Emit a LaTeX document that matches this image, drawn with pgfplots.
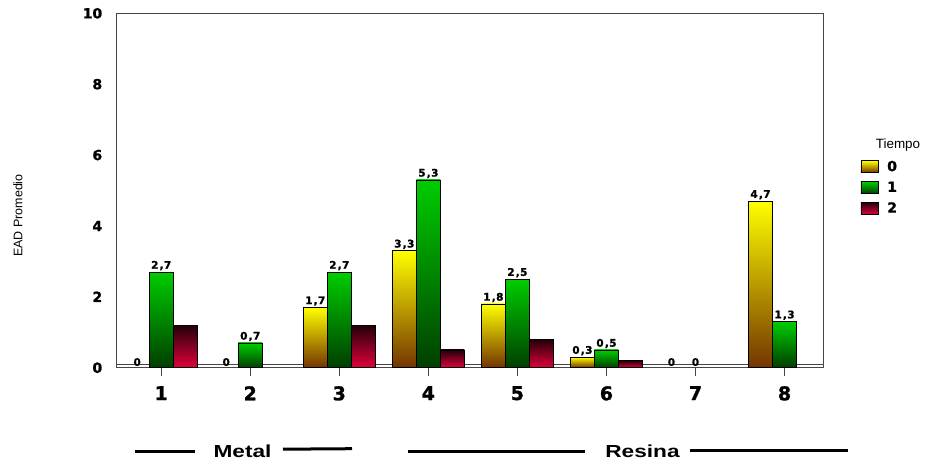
\documentclass[border=0pt]{standalone}
\usepackage{fontspec}
\setmainfont{Liberation Sans}
\newfontfamily\heavy{DejaVu Sans}[BoldFeatures={FakeBold=1.3}]
\usepackage{pgfplots}
\pgfplotsset{compat=1.18}

% gradient colours of the three Tiempo series
\definecolor{yTop}{RGB}{255,255,0}
\definecolor{yBot}{RGB}{115,52,0}
\definecolor{gTop}{RGB}{0,205,0}
\definecolor{gBot}{RGB}{0,62,0}
\definecolor{rTop}{RGB}{35,0,8}
\definecolor{rBot}{RGB}{225,0,60}
\definecolor{frame}{RGB}{70,70,70}

\pgfplotsset{
  barbase/.style={draw=black, line width=0.6bp},
  s0/.style={barbase, bar shift=-0.27, top color=yTop, bottom color=yBot, nodes near coords},
  s1/.style={barbase, bar shift=0, top color=gTop, bottom color=gBot, nodes near coords},
  s2/.style={barbase, bar shift=0.27, top color=rTop, bottom color=rBot},
  % zero values: only the value label, no bar body
  z0/.style={draw=none, fill=none, bar shift=-0.27, nodes near coords},
  z1/.style={draw=none, fill=none, bar shift=0, nodes near coords},
}
% one bar per plot, so each bar carries its own gradient
\newcommand{\onebar}[2]{\addplot[forget plot, #1] coordinates {#2};}

\begin{document}
\begin{tikzpicture}
\useasboundingbox (-116.7bp,-97.3bp) rectangle (815.3bp,367.7bp);
\begin{axis}[
  at={(0,0)}, anchor=south west,
  scale only axis, width=707bp, height=354.4bp,
  xmin=0.5, xmax=8.44, ymin=0, ymax=10,
  xtick={1,...,8}, ytick={0,2,...,10},
  /pgf/number format/assume math mode=true,
  /pgf/number format/use comma,
  /pgf/number format/set decimal separator={\kern1.2bp,\kern0.4bp},
  axis line style={frame, line width=0.9bp},
  xtick pos=bottom, xtick align=outside,
  major tick length=8bp,
  xtick style={frame, line width=0.9bp},
  ytick style={draw=none},
  yticklabel style={font=\heavy\bfseries\fontsize{14}{14}\selectfont, xshift=-11bp},
  xticklabel style={font=\heavy\bfseries\fontsize{19}{19}\selectfont, yshift=-7bp},
  ybar=0pt, bar width=0.27,
  ylabel={EAD Promedio},
  every axis y label/.style={at={(axis description cs:-0.1396,0.4295)}, rotate=90, anchor=center, font=\fontsize{12.5}{12.5}\selectfont},
  every node near coord/.append style={font=\heavy\bfseries\fontsize{10.5}{10.5}\selectfont, inner sep=1.5bp, black},
  legend style={draw=none, fill=none, at={(rel axis cs:1.052,0.59)}, anchor=north west,
    font=\heavy\bfseries\fontsize{14}{14}\selectfont, row sep=5bp, column sep=7bp, inner sep=0pt},
  legend cell align=left,
  legend image code/.code={\draw[#1, draw=black, line width=0.6bp] (0bp,-6bp) rectangle (17bp,6bp);},
]
% floor line just above zero
\addplot[sharp plot, forget plot, frame, line width=0.9bp] coordinates {(0.5,0.1) (8.44,0.1)};

% Tiempo 0
\onebar{z0}{(1,0)}
\onebar{z0}{(2,0)}
\onebar{s0}{(3,1.7)}
\onebar{s0}{(4,3.3)}
\onebar{s0}{(5,1.8)}
\onebar{s0}{(6,0.3)}
\onebar{z0}{(7,0)}
\onebar{s0}{(8,4.7)}
% Tiempo 1
\onebar{s1}{(1,2.7)}
\onebar{s1}{(2,0.7)}
\onebar{s1}{(3,2.7)}
\onebar{s1}{(4,5.3)}
\onebar{s1}{(5,2.5)}
\onebar{s1}{(6,0.5)}
\onebar{z1}{(7,0)}
\onebar{s1}{(8,1.3)}
% Tiempo 2
\onebar{s2}{(1,1.2)}
\onebar{s2}{(3,1.2)}
\onebar{s2}{(4,0.5)}
\onebar{s2}{(5,0.8)}
\onebar{s2}{(6,0.2)}

\addlegendimage{s0}\addlegendentry{0}
\addlegendimage{s1}\addlegendentry{1}
\addlegendimage{s2}\addlegendentry{2}
\end{axis}

% legend title
\node[font=\fontsize{13.5}{13.5}\selectfont] at (781.3bp,222.7bp) {Tiempo};

% group brackets under the categories
\begin{scope}[line width=3bp, black]
  \draw (18.3bp,-84bp) -- (78.3bp,-84bp);
  \draw (166.3bp,-81.5bp) -- (235.3bp,-81bp);
  \draw (291.3bp,-83.5bp) -- (468.3bp,-83.5bp);
  \draw (573.3bp,-83bp) -- (731.3bp,-83bp);
\end{scope}
\node[font=\bfseries\fontsize{17.5}{17.5}\selectfont, xscale=1.3] at (125.8bp,-83.3bp) {Metal};
\node[font=\bfseries\fontsize{17.5}{17.5}\selectfont, xscale=1.3] at (525.8bp,-83.3bp) {Resina};
\end{tikzpicture}
\end{document}
